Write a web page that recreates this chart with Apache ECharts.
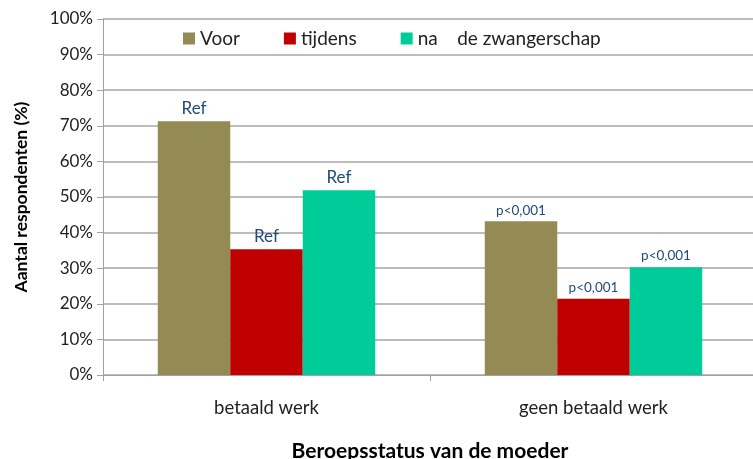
<!DOCTYPE html>
<html><head><meta charset="utf-8">
<script src="https://cdn.jsdelivr.net/npm/echarts@6/dist/echarts.min.js"></script>
<style>html,body{margin:0;padding:0;background:#fff}#c{width:753px;height:459px}</style>
</head><body><div id="c"></div>
<script>
const categories = ['betaald werk', 'geen betaald werk'];
const seriesNames = ['Voor', 'tijdens', 'na    de zwangerschap'];
const voor = [71.3, 43.2];
const tijdens = [35.3, 21.4];
const na = [51.9, 30.3];
const labelsVoor = ['Ref', 'p<0,001'];
const labelsTijdens = ['Ref', 'p<0,001'];
const labelsNa = ['Ref', 'p<0,001'];
const yTicks = [0, 10, 20, 30, 40, 50, 60, 70, 80, 90, 100];

const colors = ['#948A54', '#C00000', '#00CC99'];
const font = 'Lato, "Open Sans", sans-serif';
const chart = echarts.init(document.getElementById('c'));
function mk(name, data, labels, color) {
  return {
    name, type: 'bar', data, barGap: '0%', barCategoryGap: '33.5%',
    itemStyle: { color },
    label: {
      show: true, position: 'top', distance: 4, fontFamily: font,
      formatter: p => labels[p.dataIndex].startsWith('p') ? '{p|' + labels[p.dataIndex] + '}' : '{r|' + labels[p.dataIndex] + '}',
      rich: {
        r: { fontSize: 17, color: '#1F497D', fontFamily: font },
        p: { fontSize: 13.5, color: '#1F497D', fontFamily: font }
      }
    }
  };
}
const s = [
  mk(seriesNames[0], voor, labelsVoor, colors[0]),
  mk(seriesNames[1], tijdens, labelsTijdens, colors[1]),
  mk(seriesNames[2], na, labelsNa, colors[2])
];

chart.setOption({
  animation: false,
  color: colors,
  legend: {
    left: 179, top: 27, itemWidth: 12, itemHeight: 12, itemGap: 44,
    icon: 'rect', backgroundColor: '#fff', padding: [2, 4],
    textStyle: { fontSize: 19, color: '#222', fontFamily: font },
    data: seriesNames
  },
  grid: { left: 103, right: -4, top: 19, bottom: 84, containLabel: false, outerBoundsMode: 'none' },
  xAxis: {
    type: 'category', data: categories,
    name: 'Beroepsstatus van de moeder', nameLocation: 'middle', nameGap: 66,
    nameTextStyle: { fontSize: 21, fontWeight: 'bold', color: '#000', fontFamily: font },
    axisLine: { lineStyle: { color: '#a0a0a0', width: 1 } },
    axisTick: { show: true, length: 6, lineStyle: { color: '#a0a0a0' } },
    axisLabel: { fontSize: 18.5, color: '#222', margin: 24, fontFamily: font }
  },
  yAxis: {
    type: 'value', min: 0, max: 100, interval: 10,
    name: 'Aantal respondenten (%)', nameLocation: 'middle', nameGap: 73, nameRotate: 90,
    nameTextStyle: { fontSize: 17.5, fontWeight: 'bold', color: '#000', fontFamily: font },
    axisLine: { show: true, lineStyle: { color: '#a0a0a0' } },
    axisTick: { show: true, length: 6, lineStyle: { color: '#a0a0a0' } },
    axisLabel: { fontSize: 17, color: '#222', margin: 10, fontFamily: font,
      formatter: v => yTicks.includes(v) ? v + '%' : '' },
    splitLine: { lineStyle: { color: '#a6a6a6', width: 1.5 } }
  },
  series: s
});
</script></body></html>
